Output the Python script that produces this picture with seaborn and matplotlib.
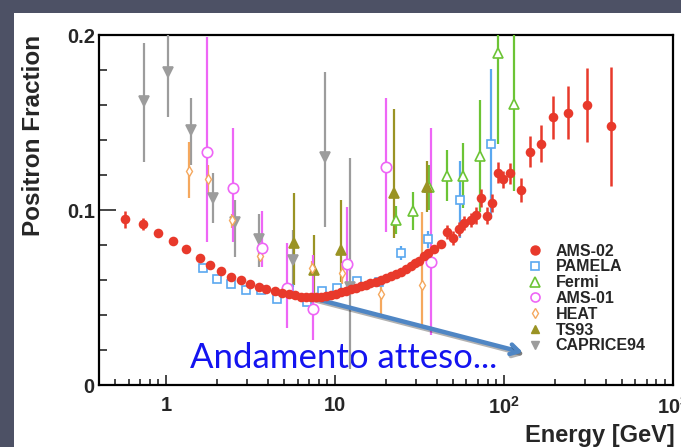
import matplotlib
matplotlib.use("Agg")
import matplotlib.pyplot as plt
import matplotlib.patheffects as pe
from matplotlib.lines import Line2D
from matplotlib.patches import Rectangle
from matplotlib.ticker import FixedLocator, FixedFormatter, LogLocator, NullFormatter
import numpy as np
import seaborn as sns

# ---- data ----
# AMS-02
ams02_e = [0.57, 0.73, 0.90, 1.10, 1.31, 1.58, 1.82, 2.12, 2.43, 2.76, 3.12, 3.53, 3.91,
           4.40, 4.86, 5.32, 5.80, 6.24, 6.70, 7.16, 7.70, 8.20, 8.80, 9.40, 10.1, 10.8,
           11.6, 12.4, 13.3, 14.2, 15.2, 16.2, 17.4, 18.6, 19.9, 21.3, 22.9, 24.5, 26.2,
           28.1, 29.7, 31.4, 33.5, 35.5, 38.6, 42.3, 45.7, 50.1, 54.3, 58.2, 63.7, 68.0,
           73.0, 78.9, 84.9, 91.6, 98.2, 109, 126, 143, 166, 194, 239, 311, 431]
ams02_pf = [0.0947, 0.0920, 0.0867, 0.0823, 0.0775, 0.0724, 0.0686, 0.0653, 0.0619, 0.0598,
            0.0575, 0.0558, 0.0550, 0.0537, 0.0524, 0.0520, 0.0514, 0.0505, 0.0503, 0.0501,
            0.0502, 0.0505, 0.0508, 0.0514, 0.0522, 0.0533, 0.0540, 0.0549, 0.0557, 0.0566,
            0.0573, 0.0581, 0.0590, 0.0600, 0.0610, 0.0623, 0.0635, 0.0648, 0.0662, 0.0680,
            0.0695, 0.0710, 0.0735, 0.0755, 0.0780, 0.0804, 0.0876, 0.0840, 0.0890, 0.0925,
            0.0943, 0.0970, 0.1070, 0.0968, 0.1040, 0.1213, 0.1175, 0.1210, 0.1114, 0.1333,
            0.1380, 0.1530, 0.1556, 0.1600, 0.1480]
ams02_err = [0.005, 0.0037, 0.002, 0.002, 0.002, 0.002, 0.002, 0.002, 0.002, 0.002,
             0.002, 0.002, 0.002, 0.002, 0.002, 0.002, 0.002, 0.002, 0.002, 0.002,
             0.002, 0.002, 0.002, 0.002, 0.002, 0.002, 0.002, 0.002, 0.002, 0.002,
             0.002, 0.002, 0.002, 0.002, 0.002, 0.002, 0.002, 0.002, 0.002, 0.002,
             0.002, 0.002, 0.002, 0.002, 0.002, 0.002, 0.004, 0.004, 0.004, 0.004,
             0.004, 0.005, 0.005, 0.005, 0.005, 0.006, 0.005, 0.006, 0.0067, 0.009,
             0.0105, 0.0123, 0.015, 0.021, 0.034]

# PAMELA
pamela_e = [1.65, 2.0, 2.42, 2.98, 3.65, 4.54, 5.35, 6.8, 8.4, 10.2, 13.4, 18.1, 24.5, 35.3, 54.8, 83.7]
pamela_pf = [0.0670, 0.0606, 0.0578, 0.0543, 0.0543, 0.0493, 0.0550, 0.0476, 0.0538, 0.0556,
             0.0596, 0.0590, 0.0753, 0.0832, 0.106, 0.1377]
pamela_err = [0.001, 0.001, 0.001, 0.001, 0.001, 0.001, 0.001, 0.001, 0.001, 0.0015,
              0.002, 0.002, 0.004, 0.005, 0.022, 0.043]

# Fermi
fermi_e = [22.9, 28.9, 36.0, 45.7, 57.5, 72.2, 91.6, 115]
fermi_pf = [0.0943, 0.0993, 0.113, 0.1196, 0.1196, 0.131, 0.190, 0.1606]
fermi_err = [0.008, 0.011, 0.013, 0.0145, 0.0185, 0.032, 0.052, 0.05]

# AMS-01
ams01_e = [1.74, 2.48, 3.70, 5.2, 7.43, 11.7, 19.9, 36.9]
ams01_pf = [0.1333, 0.1127, 0.0781, 0.0553, 0.0434, 0.0691, 0.1248, 0.0705]
ams01_lo = [0.0819, 0.0816, 0.0672, 0.0324, 0.0257, 0.056, 0.0876, 0.0286]
ams01_hi = [0.1987, 0.147, 0.0996, 0.081, 0.0743, 0.102, 0.164, 0.1467]

# HEAT
heat_e = [1.37, 1.77, 2.45, 3.6, 7.3, 11.0, 18.6, 32.9]
heat_pf = [0.1223, 0.1177, 0.0943, 0.074, 0.067, 0.064, 0.0518, 0.0571]
heat_lo = [0.1067, 0.1095, 0.090, 0.071, 0.063, 0.058, 0.039, 0.0333]
heat_hi = [0.139, 0.1257, 0.098, 0.077, 0.071, 0.070, 0.060, 0.099]

# TS93
ts93_e = [5.7, 7.55, 10.86, 22.4, 35.0]
ts93_pf = [0.0813, 0.0657, 0.0771, 0.110, 0.113]
ts93_lo = [0.057, 0.0486, 0.059, 0.0842, 0.099]
ts93_hi = [0.1095, 0.0857, 0.1057, 0.1577, 0.128]

# CAPRICE94
cap_e = [0.743, 1.03, 1.40, 1.88, 2.57, 3.53, 5.62, 8.66, 12.3]
cap_pf = [0.1623, 0.179, 0.1457, 0.1067, 0.0933, 0.0833, 0.0714, 0.1305, 0.056]
cap_lo = [0.1273, 0.1533, 0.1257, 0.0924, 0.0733, 0.0676, 0.0562, 0.0905, 0.009]
cap_hi = [0.1953, 0.21, 0.1638, 0.1213, 0.1057, 0.0977, 0.0886, 0.179, 0.1295]

legend_labels = ["AMS-02", "PAMELA", "Fermi", "AMS-01", "HEAT", "TS93", "CAPRICE94"]

# colours
c_ams02 = "#e8392b"
c_pamela = "#5aa8f0"
c_fermi = "#6cc435"
c_ams01 = "#ee66f6"
c_heat = "#f5a85e"
c_ts93 = "#9a9324"
c_cap = "#9c9c9c"

sns.set_style("ticks")
plt.rcParams["font.family"] = ["Liberation Sans", "DejaVu Sans"]
plt.rcParams["mathtext.fontset"] = "custom"
plt.rcParams["mathtext.bf"] = "Liberation Sans:bold"
plt.rcParams["mathtext.rm"] = "Liberation Sans:bold"

fig = plt.figure(figsize=(6.81, 4.47), dpi=100, facecolor="#4d5165")
fig.patches.append(Rectangle((14 / 681, 0), 1, 434 / 447, transform=fig.transFigure,
                             facecolor="white", edgecolor="none", zorder=-10))
ax = fig.add_axes([0.1454, 0.1387, 0.8426, 0.783])
ax.set_facecolor("white")


def draw(x, y, lo, hi, color, marker, ms, fill, z=3, mew=1.2):
    y = np.array(y)
    yerr = [y - np.array(lo), np.array(hi) - y]
    ax.errorbar(x, y, yerr=yerr, fmt="none", ecolor=color, elinewidth=1.6, capsize=0, zorder=z)
    ax.plot(x, y, ls="none", marker=marker, ms=ms, mfc=fill, mec=color, mew=mew, zorder=z + 0.1)


p = np.array(pamela_pf); pe_ = np.array(pamela_err)
draw(pamela_e, p, p - pe_, p + pe_, c_pamela, "s", 6, "white")
f = np.array(fermi_pf); fe = np.array(fermi_err)
draw(fermi_e, f, f - fe, f + fe, c_fermi, "^", 7, "white")
draw(cap_e, cap_pf, cap_lo, cap_hi, c_cap, "v", 7, c_cap)
draw(ts93_e, ts93_pf, ts93_lo, ts93_hi, c_ts93, "^", 6.5, c_ts93)
draw(heat_e, heat_pf, heat_lo, heat_hi, c_heat, "d", 5, "white", mew=1.0)
draw(ams01_e, ams01_pf, ams01_lo, ams01_hi, c_ams01, "o", 7.5, "white")

# AMS-02 on top
ax.errorbar(ams02_e, ams02_pf, yerr=ams02_err, fmt="none", ecolor=c_ams02,
            elinewidth=1.8, capsize=0, zorder=6)
sns.scatterplot(x=ams02_e, y=ams02_pf, color=c_ams02, s=48, edgecolor=c_ams02,
                linewidth=0, ax=ax, zorder=7, legend=False)

# annotation arrow and text
ann = ax.annotate("", xy=(129.6, 0.0186), xytext=(6.59, 0.0509),
                  arrowprops=dict(arrowstyle="->,head_length=0.6,head_width=0.35",
                                  lw=3.2, color="#4f86c4", shrinkA=0, shrinkB=0), zorder=5)
ann.arrow_patch.set_path_effects([pe.SimpleLineShadow(offset=(1, -1.5), alpha=0.3), pe.Normal()])
ax.text(0.1585, 0.0486, "Andamento atteso...", transform=ax.transAxes, color="#1414f0",
        fontsize=25, family=["Lato", "DejaVu Sans"], va="baseline", zorder=2)

# axes
ax.set_xscale("log")
ax.set_xlim(0.4, 1000)
ax.set_ylim(0, 0.2)
ax.yaxis.set_major_locator(FixedLocator([0, 0.1, 0.2]))
ax.yaxis.set_major_formatter(FixedFormatter(["0", "0.1", "0.2"]))
ax.yaxis.set_minor_locator(FixedLocator([0.02, 0.04, 0.06, 0.08, 0.12, 0.14, 0.16, 0.18]))
ax.xaxis.set_major_locator(FixedLocator([1, 10, 100, 1000]))
ax.xaxis.set_major_formatter(FixedFormatter(["1", "10", r"$\mathbf{10^{2}}$", r"$\mathbf{10^{3}}$"]))
ax.xaxis.set_minor_locator(LogLocator(base=10, subs=[2, 3, 4, 5, 6, 7, 8, 9]))
ax.xaxis.set_minor_formatter(NullFormatter())

ax.tick_params(axis="y", which="major", direction="in", length=12, width=1.2, pad=3,
               labelsize=14.5, right=False)
ax.tick_params(axis="y", which="minor", direction="in", length=6, width=1.2, right=False)
ax.tick_params(axis="x", which="major", direction="in", length=7.5, width=1.2, pad=8,
               labelsize=14.5, top=False)
ax.tick_params(axis="x", which="minor", direction="in", length=4, width=1.2, top=False)
for lab in ax.get_xticklabels() + ax.get_yticklabels():
    lab.set_fontweight("bold")
for s in ax.spines.values():
    s.set_linewidth(1.6)
    s.set_color("black")

ax.set_ylabel("Positron Fraction", fontsize=17.5, fontweight="bold", loc="top")
ax.yaxis.set_label_coords(-0.095, 1.0)
ax.set_xlabel("Energy [GeV]", fontsize=17, fontweight="bold", loc="right")
ax.xaxis.set_label_coords(1.003, -0.112)

handles = [
    Line2D([], [], ls="none", marker="o", ms=6.5, mfc=c_ams02, mec=c_ams02),
    Line2D([], [], ls="none", marker="s", ms=6, mfc="white", mec=c_pamela, mew=1.2),
    Line2D([], [], ls="none", marker="^", ms=6.5, mfc="white", mec=c_fermi, mew=1.2),
    Line2D([], [], ls="none", marker="o", ms=6.5, mfc="white", mec=c_ams01, mew=1.2),
    Line2D([], [], ls="none", marker="d", ms=5, mfc="white", mec=c_heat, mew=1.0),
    Line2D([], [], ls="none", marker="^", ms=6, mfc=c_ts93, mec=c_ts93),
    Line2D([], [], ls="none", marker="v", ms=6, mfc=c_cap, mec=c_cap),
]
ax.legend(handles, legend_labels, loc="upper left", bbox_to_anchor=(0.748, 0.404),
          frameon=False, prop={"weight": "bold", "size": 11.5}, handlelength=0.8,
          handletextpad=0.9, labelspacing=0.05, borderpad=0, borderaxespad=0)

fig.savefig("out.png", dpi=100, facecolor=fig.get_facecolor())
